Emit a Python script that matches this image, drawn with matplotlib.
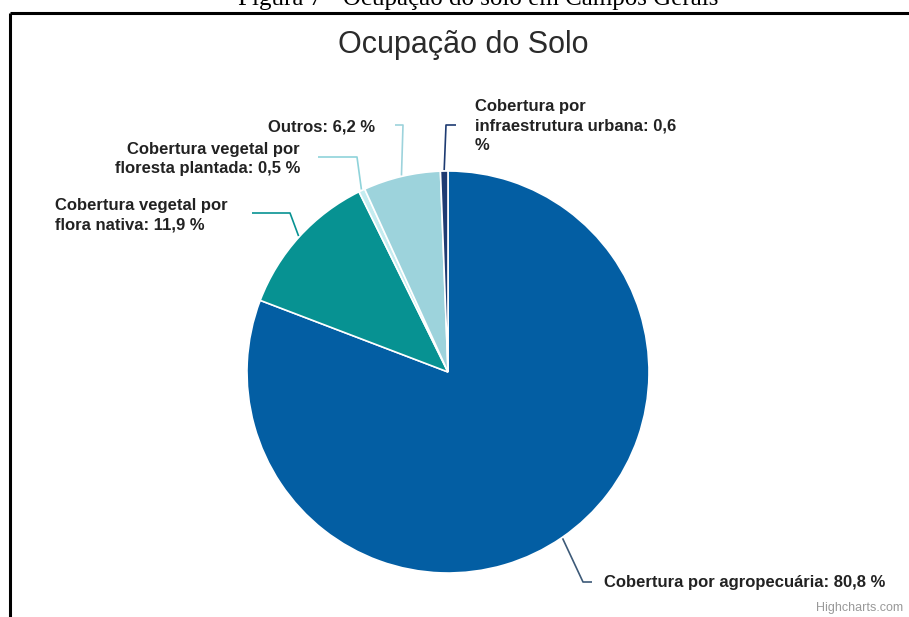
import numpy as np
import matplotlib
matplotlib.use('Agg')
import matplotlib.pyplot as plt

# Dados do gráfico (ordem do Highcharts: começa no topo, sentido horário)
categorias = ['Cobertura por agropecuária',
              'Cobertura vegetal por flora nativa',
              'Cobertura vegetal por floresta plantada',
              'Outros',
              'Cobertura por infraestrutura urbana']
valores = [80.8, 11.9, 0.5, 6.2, 0.6]
rotulos = ['Cobertura por agropecuária: 80,8 %',
           'Cobertura vegetal por\nflora nativa: 11,9 %',
           'Cobertura vegetal por\nfloresta plantada: 0,5 %',
           'Outros: 6,2 %',
           'Cobertura por\ninfraestrutura urbana: 0,6\n%']
cores = ['#035ea3', '#079292', '#c4ecf0', '#9dd3dc', '#1e3b72']
cores_linha = ['#3d5a78', '#079292', '#8fd3da', '#9dd3dc', '#1e3b72']

W, H = 909, 617
fig = plt.figure(figsize=(W / 100, H / 100), dpi=100)
ax = fig.add_axes([0, 0, 1, 1])

def py(y):
    # converte y de pixel (topo) para coordenada do eixo
    return H - y

cx, cy, r = 448, 372, 201

wedges, _ = ax.pie(valores, colors=cores, startangle=90, counterclock=False,
                   radius=r, center=(cx, py(cy)), frame=True,
                   wedgeprops=dict(edgecolor='white', linewidth=1.2))
ax.set_xlim(0, W)
ax.set_ylim(0, H)
ax.set_aspect('equal')
ax.axis('off')

# posição do cotovelo e do texto de cada rótulo (layout em pixels)
cotovelos = [(583, 582), (290, 213), (357, 157), (403, 125), (446, 125)]
fim_linha = [(592, 582), (252, 213), (318, 157), (395, 125), (456, 125)]
textos = [(604, 583, 'left', 'center'),
          (55, 215, 'left', 'center'),
          (300, 159, 'right', 'center'),
          (375, 127, 'right', 'center'),
          (475, 126, 'left', 'center')]

fonte = 'Liberation Sans'
for w, cl, cot, fim, (tx, ty, ha, va), txt in zip(wedges, cores_linha, cotovelos,
                                                  fim_linha, textos, rotulos):
    ang = np.deg2rad((w.theta1 + w.theta2) / 2)
    x0 = cx + (r + 1) * np.cos(ang)
    y0 = py(cy) + (r + 1) * np.sin(ang)
    ax.plot([x0, cot[0], fim[0]], [y0, py(cot[1]), py(fim[1])],
            color=cl, lw=1.2, solid_capstyle='butt')
    ax.text(tx, py(ty), txt, ha=ha, va=va, fontsize=12, fontweight='bold',
            family=fonte, color='#222222', linespacing=1.35)

# título
ax.text(463, py(45), 'Ocupação do Solo', ha='center', va='center',
        fontsize=22, family=fonte, color='#2b2b2b')

# crédito
ax.text(903, py(608), 'Highcharts.com', ha='right', va='center',
        fontsize=9, family=fonte, color='#999999')

# legenda da figura (cortada no topo, como na imagem original)
ax.text(478, py(5), 'Figura 7 - Ocupação do solo em Campos Gerais',
        ha='center', va='baseline', fontsize=18, family='Liberation Serif',
        color='black')

# moldura (topo e esquerda)
ax.plot([10, W], [py(13), py(13)], color='black', lw=2.2, solid_capstyle='butt')
ax.plot([10, 10], [py(13), 0], color='black', lw=2.2, solid_capstyle='butt')

fig.savefig('out.png', dpi=100)
